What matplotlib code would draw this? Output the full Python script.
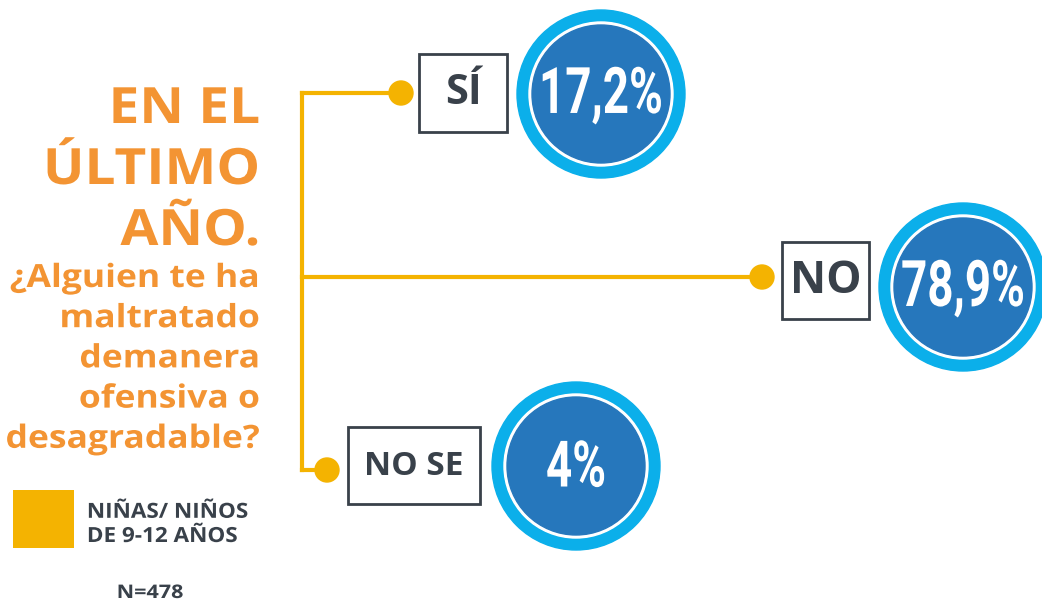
import matplotlib.pyplot as plt
from matplotlib.patches import Circle, Rectangle
from matplotlib.patheffects import AbstractPathEffect
from matplotlib.path import Path
from matplotlib.transforms import Affine2D

# data
answers = ["SÍ", "NO", "NO SE"]
shares = [17.2, 78.9, 4.0]
title_lines = ["EN EL", "ÚLTIMO", "AÑO."]
question_lines = ["¿Alguien te ha", "maltratado", "demanera", "ofensiva o", "desagradable?"]
legend_label = "NIÑAS/ NIÑOS\nDE 9-12 AÑOS"
sample_note = "N=478"

# layout (pixels, y down)
trunk_x = 302
branch_y = [93, 277, 470]
dot_x = [401, 762, 327]
box_xy = [(419, 54, 88, 78), (782, 242, 87, 77), (348, 427, 132, 77)]
circle_xy = [(601, 94), (963, 287), (576, 466)]

YELLOW = "#F4B301"
ORANGE = "#F39433"
DARK = "#39414A"
LIGHT_BLUE = "#0BAFEA"
BLUE = "#2677BC"
SANS = ["Open Sans", "DejaVu Sans"]


class Stretch(AbstractPathEffect):
    """Scale the drawn glyphs about an anchor (keeps the text a Text artist)."""

    def __init__(self, sx=1.0, sy=1.0, anchor="center"):
        super().__init__()
        self.sx, self.sy, self.anchor = sx, sy, anchor

    def draw_path(self, renderer, gc, tpath, affine, rgbFace=None):
        verts = tpath.vertices
        if tpath.codes is not None:
            verts = verts[tpath.codes != Path.CLOSEPOLY]
        pts = affine.transform(verts)
        x0, x1 = pts[:, 0].min(), pts[:, 0].max()
        y0, y1 = pts[:, 1].min(), pts[:, 1].max()
        ax_ = {"center": (x0 + x1) / 2, "right": x1, "left": x0}[self.anchor]
        ay = (y0 + y1) / 2
        t = affine + Affine2D().translate(-ax_, -ay).scale(self.sx, self.sy).translate(ax_, ay)
        renderer.draw_path(gc, tpath, t, rgbFace)


def pct(v):
    s = f"{v:.1f}".rstrip("0").rstrip(".")
    return s.replace(".", ",") + "%"


def main():
    fig = plt.figure(figsize=(10.42, 6.04), dpi=100)
    ax = fig.add_axes([0, 0, 1, 1])
    ax.set_xlim(0, 1042)
    ax.set_ylim(604, 0)
    ax.axis("off")

    # connector tree
    ax.plot([trunk_x, trunk_x], [branch_y[0], branch_y[-1]], color=YELLOW, lw=3, zorder=1)
    for y, dx in zip(branch_y, dot_x):
        ax.plot([trunk_x, dx], [y, y], color=YELLOW, lw=3, zorder=1)
        ax.add_patch(Circle((dx, y), 12, color=YELLOW, zorder=2))

    sizes = [30, 32, 24]
    for lab, v, (bx, by, bw, bh), (cx, cy), fs in zip(answers, shares, box_xy, circle_xy, sizes):
        ax.add_patch(Rectangle((bx, by), bw, bh, fill=False, ec=DARK, lw=2, zorder=2))
        ax.text(bx + bw / 2, by + bh / 2 + 1, lab, ha="center", va="center",
                fontsize=fs, fontweight="bold", color=DARK, family=SANS)
        ax.add_patch(Circle((cx, cy), 84, color=LIGHT_BLUE, zorder=2))
        ax.add_patch(Circle((cx, cy), 72, color="white", zorder=3))
        ax.add_patch(Circle((cx, cy), 69, color=BLUE, zorder=4))
        ax.text(cx, cy + 1, pct(v), ha="center", va="center", fontsize=33, fontweight="bold",
                color="white", family=["Roboto", "DejaVu Sans"], zorder=5,
                path_effects=[Stretch(sy=1.4)])

    # title block
    for i, line in enumerate(title_lines):
        ax.text(260, 123 + i * 61, line, ha="right", va="baseline", fontsize=36,
                fontweight="bold", color=ORANGE, family=SANS,
                path_effects=[Stretch(sx=1.1, anchor="right")])
    for i, line in enumerate(question_lines):
        ax.text(260, 287 + i * 40.2, line, ha="right", va="baseline", fontsize=23,
                fontweight="bold", color=ORANGE, family=SANS,
                path_effects=[Stretch(sx=1.11, anchor="right")])

    # legend
    ax.add_patch(Rectangle((13, 490), 61, 58, color=YELLOW, lw=0))
    ax.text(87, 542, legend_label, ha="left", va="baseline", fontsize=15, fontweight="bold",
            color=DARK, linespacing=1.2, family=SANS,
            path_effects=[Stretch(sx=1.08, anchor="left")])
    ax.text(150, 598, sample_note, ha="center", va="baseline", fontsize=13.5, fontweight="bold",
            color=DARK, family=SANS, path_effects=[Stretch(sx=1.15)])

    fig.savefig("out.png", dpi=100)


if __name__ == "__main__":
    main()
